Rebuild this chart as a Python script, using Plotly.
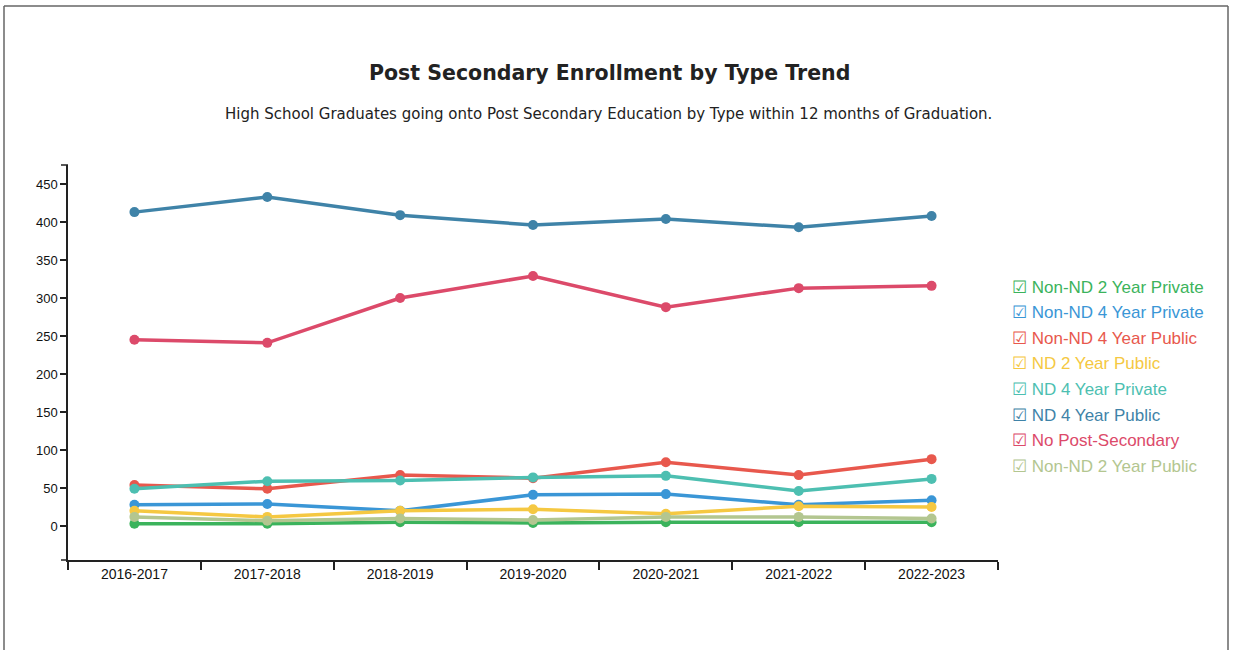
import plotly.graph_objects as go

# School years on the category axis
years = ["2016-2017", "2017-2018", "2018-2019", "2019-2020",
         "2020-2021", "2021-2022", "2022-2023"]

# Graduates by post-secondary type, one list per series
non_nd_2yr_private = [3, 3, 5, 4, 5, 5, 5]
non_nd_4yr_private = [28, 29, 20, 41, 42, 28, 34]
non_nd_4yr_public = [54, 49, 67, 63, 84, 67, 88]
nd_2yr_public = [20, 12, 20, 22, 16, 26, 25]
nd_4yr_private = [49, 59, 60, 64, 66, 46, 62]
nd_4yr_public = [413, 433, 409, 396, 404, 393, 408]
no_post_secondary = [245, 241, 300, 329, 288, 313, 316]
non_nd_2yr_public = [12, 7, 10, 8, 12, 12, 10]

series_names = ["Non-ND 2 Year Private", "Non-ND 4 Year Private", "Non-ND 4 Year Public",
                "ND 2 Year Public", "ND 4 Year Private", "ND 4 Year Public",
                "No Post-Secondary", "Non-ND 2 Year Public"]
series_values = [non_nd_2yr_private, non_nd_4yr_private, non_nd_4yr_public,
                 nd_2yr_public, nd_4yr_private, nd_4yr_public,
                 no_post_secondary, non_nd_2yr_public]
series_colors = ["#3bb35c", "#3a96d6", "#e8584d", "#f5c842",
                 "#4dbfb1", "#3f83a8", "#dc4a6a", "#b3c690"]

y_ticks = [0, 50, 100, 150, 200, 250, 300, 350, 400, 450]

W, H = 1233, 650
ML, MR, MT, MB = 68, 235, 165, 90
PW, PH = W - ML - MR, H - MT - MB


def px(x):
    return (x - ML) / PW


def py(y):
    return (H - MB - y) / PH


fig = go.Figure()
for name, vals, col in zip(series_names, series_values, series_colors):
    fig.add_trace(go.Scatter(
        x=years, y=vals, name=name, mode="lines+markers",
        line=dict(color=col, width=3.5),
        marker=dict(color=col, size=10),
    ))

# Legend drawn as coloured check-box labels
for i, (name, col) in enumerate(zip(series_names, series_colors)):
    fig.add_annotation(
        x=px(1010), y=py(287 + i * 25.6), xref="paper", yref="paper",
        xanchor="left", yanchor="middle", showarrow=False,
        text="☑ " + name,
        font=dict(family="Liberation Sans, Arial", size=17, color=col),
    )

# Title and subtitle
fig.add_annotation(
    x=px(609), y=py(73), xref="paper", yref="paper", showarrow=False,
    xanchor="center", yanchor="middle",
    text="<b>Post Secondary Enrollment by Type Trend</b>",
    font=dict(family="DejaVu Sans", size=20.5, color="#222"),
)
fig.add_annotation(
    x=px(608), y=py(114), xref="paper", yref="paper", showarrow=False,
    xanchor="center", yanchor="middle",
    text="High School Graduates going onto Post Secondary Education by Type within 12 months of Graduation.",
    font=dict(family="DejaVu Sans", size=15, color="#222"),
)

# Outer frame and axis end stubs
frame = dict(type="line", xref="paper", yref="paper", line=dict(color="#666", width=1.5))
fig.add_shape(**frame, x0=px(4), x1=px(4), y0=py(6), y1=py(660))
fig.add_shape(**frame, x0=px(4), x1=px(1228), y0=py(6), y1=py(6))
fig.add_shape(**frame, x0=px(1228), x1=px(1228), y0=py(6), y1=py(660))
stub = dict(type="line", xref="paper", yref="paper", line=dict(color="#222", width=1.5))
fig.add_shape(**stub, x0=px(61), x1=px(68), y0=py(165), y1=py(165))
fig.add_shape(**stub, x0=px(61), x1=px(68), y0=py(560), y1=py(560))

fig.update_layout(
    width=W, height=H,
    margin=dict(l=ML, r=MR, t=MT, b=MB),
    paper_bgcolor="white", plot_bgcolor="white",
    showlegend=False,
    xaxis=dict(
        type="category", categoryorder="array", categoryarray=years,
        range=[-0.5, 6.5], tickson="boundaries",
        showline=True, linecolor="#222", linewidth=1.5,
        ticks="outside", ticklen=8, tickcolor="#222", tickwidth=1.5,
        showgrid=False, zeroline=False,
        tickfont=dict(family="Liberation Sans, Arial", size=14, color="#111"),
    ),
    yaxis=dict(
        range=[-44.7, 475], tickvals=y_ticks,
        showline=True, linecolor="#222", linewidth=1.5,
        ticks="outside", ticklen=6, tickcolor="#222", tickwidth=1.5,
        showgrid=False, zeroline=False,
        tickfont=dict(family="Liberation Sans, Arial", size=13, color="#111"),
    ),
)

fig.write_html("out.html")
